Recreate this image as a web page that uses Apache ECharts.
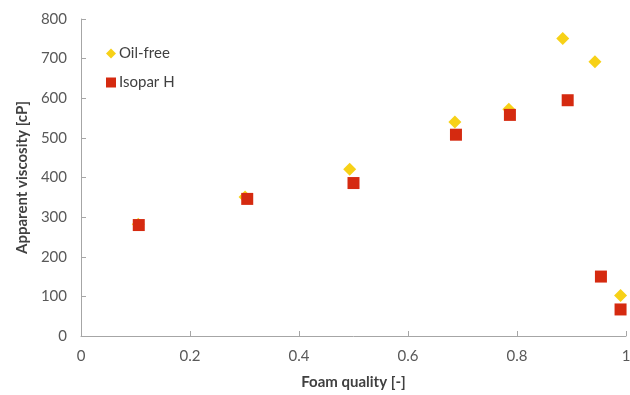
<!DOCTYPE html>
<html>
<head>
<meta charset="utf-8">
<script src="https://cdn.jsdelivr.net/npm/echarts@6/dist/echarts.min.js"></script>
<style>
  html, body { margin: 0; padding: 0; background: #fff; }
  #chart { width: 630px; height: 395px; }
</style>
</head>
<body>
<div id="chart"></div>
<script>
// Foam quality (x) and apparent viscosity in cP (y) for each fluid
const oilFreeX = [0.105, 0.301, 0.493, 0.686, 0.785, 0.884, 0.943, 0.990];
const oilFreeY = [282, 351, 421, 540, 572, 751, 692, 102];
const isoparX = [0.106, 0.305, 0.500, 0.688, 0.787, 0.893, 0.954, 0.990];
const isoparY = [280, 346, 386, 508, 558, 595, 150, 67];

const seriesNames = ['Oil-free', 'Isopar H'];
const xTitle = 'Foam quality [-]';
const yTitle = 'Apparent viscosity [cP]';

const FONT = 'Lato';
const YELLOW = '#F7D117';
const RED = '#D52A10';

const pairs = (xs, ys) => xs.map((x, i) => [x, ys[i]]);

const chart = echarts.init(document.getElementById('chart'), null, { renderer: 'canvas' });
chart.setOption({
  animation: false,
  backgroundColor: '#ffffff',
  grid: { left: 81, right: 4, top: 19, bottom: 59, containLabel: false, outerBoundsMode: 'none' },
  legend: {
    orient: 'vertical',
    left: 101,
    top: 41,
    itemGap: 14,
    itemWidth: 10,
    itemHeight: 10,
    textStyle: { fontFamily: FONT, fontSize: 15, color: '#404040', padding: [0, 0, 0, -2] },
    data: [
      { name: seriesNames[0], icon: 'diamond' },
      { name: seriesNames[1], icon: 'rect' }
    ]
  },
  xAxis: {
    type: 'value',
    min: 0,
    max: 1,
    interval: 0.2,
    name: xTitle,
    nameLocation: 'middle',
    nameGap: 39,
    nameTextStyle: { fontFamily: FONT, fontSize: 15, fontWeight: 'bold', color: '#404040' },
    axisLine: { show: true, lineStyle: { color: '#A6A6A6', width: 1 } },
    axisTick: { show: true, inside: true, length: 5, lineStyle: { color: '#A6A6A6' } },
    axisLabel: {
      fontFamily: FONT, fontSize: 15, color: '#595959', margin: 13,
      formatter: v => String(Math.round(v * 10) / 10)
    },
    splitLine: { show: false }
  },
  yAxis: {
    type: 'value',
    min: 0,
    max: 800,
    interval: 100,
    name: yTitle,
    nameLocation: 'middle',
    nameGap: 49,
    nameTextStyle: { fontFamily: FONT, fontSize: 15, fontWeight: 'bold', color: '#404040' },
    axisLine: { show: true, lineStyle: { color: '#A6A6A6', width: 1 } },
    axisTick: { show: true, inside: true, length: 5, lineStyle: { color: '#A6A6A6' } },
    axisLabel: { fontFamily: FONT, fontSize: 15, color: '#595959', margin: 14 },
    splitLine: { show: false }
  },
  series: [
    {
      name: seriesNames[0],
      type: 'scatter',
      symbol: 'diamond',
      symbolSize: 13,
      itemStyle: { color: YELLOW, opacity: 1 },
      data: pairs(oilFreeX, oilFreeY),
      z: 2
    },
    {
      name: seriesNames[1],
      type: 'scatter',
      symbol: 'rect',
      symbolSize: 12,
      itemStyle: { color: RED, opacity: 1 },
      data: pairs(isoparX, isoparY),
      z: 3
    }
  ]
});
</script>
</body>
</html>
